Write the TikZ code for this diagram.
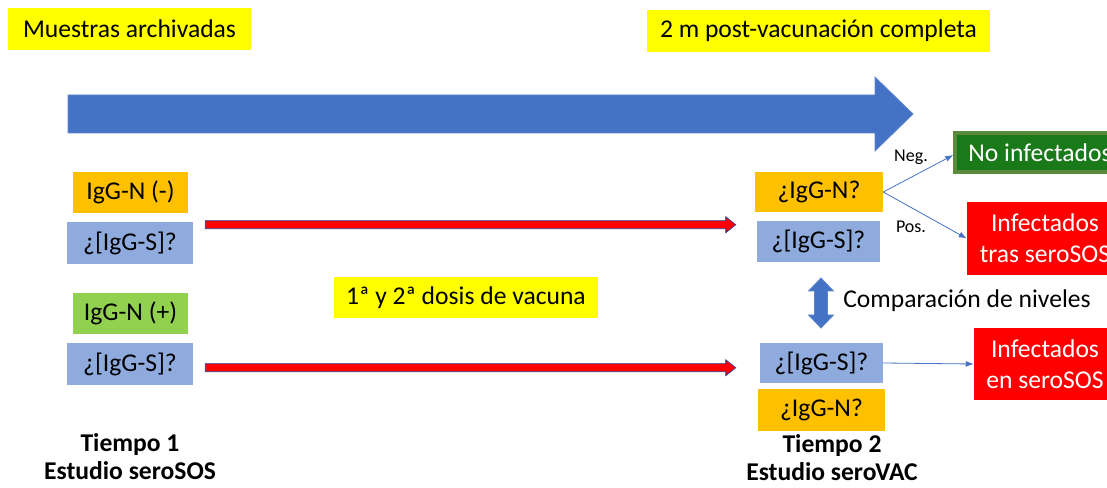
\documentclass[tikz,border=0pt]{standalone}
\usepackage{fontspec}
\setmainfont{Carlito}
\usetikzlibrary{calc,arrows.meta}
\definecolor{yel}{HTML}{FFFF00}
\definecolor{org}{HTML}{FFC000}
\definecolor{lblue}{HTML}{8FAADC}
\definecolor{lgreen}{HTML}{92D050}
\definecolor{dblue}{HTML}{4472C4}
\definecolor{dgreen}{HTML}{1A7A1A}
\definecolor{dgreenb}{HTML}{5B8A3C}
\definecolor{redf}{HTML}{FF0000}
\definecolor{redline}{HTML}{2F3F8F}
\newcommand\redarrow[2]{\filldraw[redarr] ($(#1)+(0,-4)$) -- ($(#2)+(-10,-4)$) -- ($(#2)+(-10,-8)$) -- (#2) -- ($(#2)+(-10,8)$) -- ($(#2)+(-10,4)$) -- ($(#1)+(0,4)$) -- cycle;}
\begin{document}
\begin{tikzpicture}[x=0.75pt,y=-0.75pt,
  box/.style 2 args={minimum width={#1*0.75pt},minimum height={#2*0.75pt},inner sep=0pt,font=\fontsize{19.2}{23.5}\selectfont},
  ybox/.style={fill=yel},
  obox/.style={fill=org},
  bbox/.style={fill=lblue},
  gbox/.style={fill=lgreen},
  rbox/.style={fill=redf,text=white,align=center},
  lab/.style={font=\fontsize{19.2}{21}\selectfont\bfseries,align=center,inner sep=0pt},
  small/.style={font=\fontsize{13.5}{15}\selectfont,inner sep=0pt},
  thin/.style={draw=dblue,line width=0.6pt,-{Latex[length=6pt,width=4.5pt]}},
  redarr/.style={fill=redf,draw=redline,line width=0.5pt},
  bigarr/.style={fill=dblue,draw=dblue!85!white,line width=0.6pt}]
\useasboundingbox (0,0) rectangle (1107,488);
\fill[white] (0,0) rectangle (1107,488);

% top labels
\node[box={243}{42},ybox] (muestras) at (129.5,29) {Muestras archivadas};
\node[box={343}{42},ybox] (post) at (818.5,31) {2 m post-vacunación completa};

% timeline arrow
\filldraw[bigarr] (68,95) -- (875,95) -- (875,77) -- (913,114) -- (875,151) -- (875,133) -- (68,133) -- cycle;

% left column
\node[box={115}{41},obox] (n1) at (130.5,192.5) {IgG-N (-)};
\node[box={126}{42},bbox] (s1) at (130,243) {¿[IgG-S]?};
\node[box={115}{41},gbox] (n2) at (130.5,313.5) {IgG-N (+)};
\node[box={126}{42},bbox] (s2) at (130,364) {¿[IgG-S]?};
\node[lab] (t1) at (130,457) {Tiempo 1\\Estudio seroSOS};

% middle
\node[box={264}{41},ybox] (dosis) at (466,298) {1ª y 2ª dosis de vacuna};

% right column
\node[box={128}{40},obox] (rn1) at (819,192) {¿IgG-N?};
\node[box={123}{41},bbox] (rs1) at (818.5,241.5) {¿[IgG-S]?};
\node[box={123}{40},bbox] (rs2) at (821.5,363) {¿[IgG-S]?};
\node[box={127}{42},obox] (rn2) at (821.5,410) {¿IgG-N?};
\node[lab] (t2) at (832,458) {Tiempo 2\\Estudio seroVAC};

% results
\node[box={170}{39},fill=dgreen,draw=dgreenb,line width=2.5pt,text=white] (noinf) at (1040,152.5) {No infectados};
\node[box={156}{73},rbox] (inftras) at (1045,238.5) {Infectados\\tras seroSOS};
\node[box={142}{72},rbox] (infen) at (1045,364) {Infectados\\en seroSOS};

% red arrows
\coordinate (a1s) at ($(s1.north east)+(12,3)$);
\coordinate (a1e) at ($(rs1.north west)+(-21,4)$);
\redarrow{a1s}{a1e}
\coordinate (a2s) at ($(s2.north east)+(12,25)$);
\coordinate (a2e) at ($(rs2.north west)+(-24,25)$);
\redarrow{a2s}{a2e}

% thin arrows
\draw[thin] (rn1.east) -- (noinf.west |- 0,155) coordinate (negend);
\draw[thin] (rn1.east) -- (inftras.west);
\node[small] (neg) at (911,157) {Neg.};
\node[small] (pos) at (911,227) {Pos.};
\draw[thin] (rs2.east) -- (infen.west);

% comparison double arrow
\coordinate (dt) at (821,278);
\coordinate (db) at (821,328);
\filldraw[bigarr] (dt) -- ($(dt)+(12.5,13)$) -- ($(dt)+(6.5,13)$) -- ($(db)+(6.5,-13)$) -- ($(db)+(12.5,-13)$) -- (db) -- ($(db)+(-12.5,-13)$) -- ($(db)+(-6.5,-13)$) -- ($(dt)+(-6.5,13)$) -- ($(dt)+(-12.5,13)$) -- cycle;
\node[anchor=west,inner sep=0pt,font=\fontsize{19.2}{23.5}\selectfont] (comp) at (843,301) {Comparación de niveles};
\end{tikzpicture}
\end{document}
